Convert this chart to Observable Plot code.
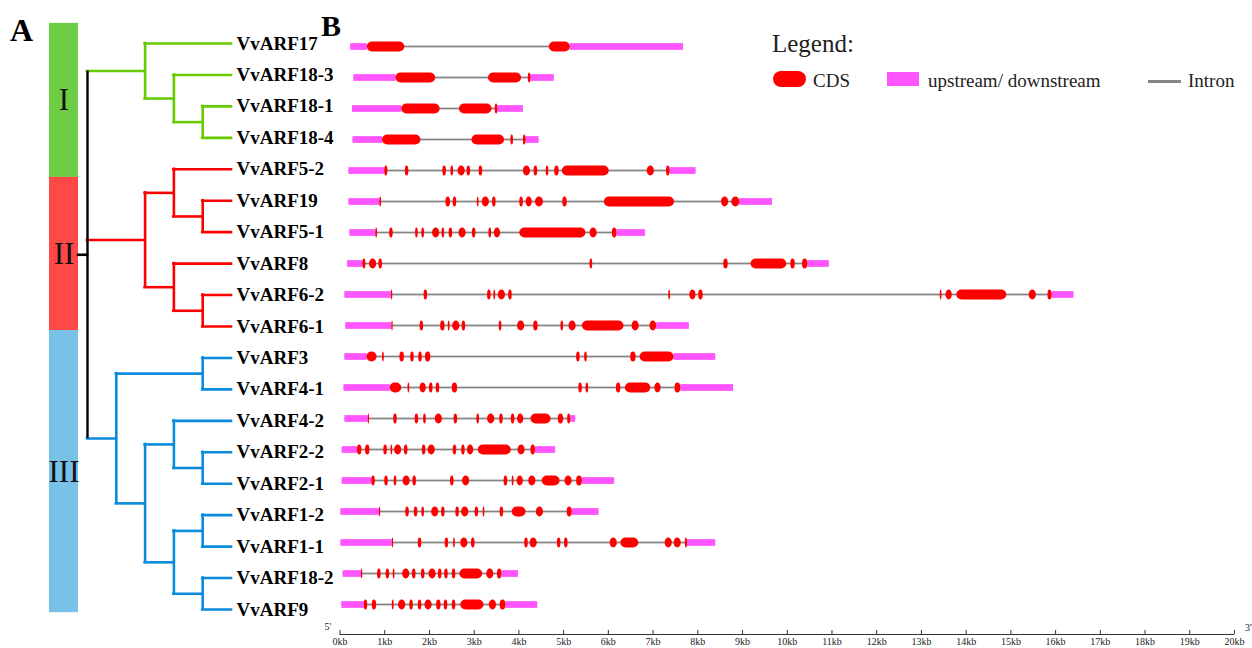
<!DOCTYPE html>
<html>
<head>
<meta charset="utf-8">
<script src="https://cdn.jsdelivr.net/npm/d3@7"></script>
<script src="https://cdn.jsdelivr.net/npm/@observablehq/plot@0.6"></script>
<style>
  body { margin: 0; background: #fff; }
  #wrap { position: relative; width: 1252px; height: 648px; font-family: "Liberation Serif", "Times New Roman", serif; color: #000; overflow: hidden; }
  .layer { position: absolute; }
  .layer svg { background: transparent !important; max-width: none !important; overflow: visible; display: block; }
  .txt { position: absolute; white-space: nowrap; }
</style>
</head>
<body>
<div id="wrap"></div>
<script>
// ---------------- data ----------------
const genes = ["VvARF17","VvARF18-3","VvARF18-1","VvARF18-4","VvARF5-2","VvARF19","VvARF5-1","VvARF8","VvARF6-2","VvARF6-1","VvARF3","VvARF4-1","VvARF4-2","VvARF2-2","VvARF2-1","VvARF1-2","VvARF1-1","VvARF18-2","VvARF9"];

const groups = ["I", "II", "III"];
// extent of each subfamily bar, in gene rows
const groupSpans = [[-0.64, 4.26], [4.26, 9.13], [9.13, 18.1]];
const groupBarColors = ["#6dce45", "#ff4848", "#78c2e7"];
const treeColors = ["#66cc00", "#ff0000", "#0a8bdb"];

// cladogram topology (subfamily I, II, III)
const tree = [
  ["VvARF17", ["VvARF18-3", ["VvARF18-1", "VvARF18-4"]]],
  [["VvARF5-2", ["VvARF19", "VvARF5-1"]], ["VvARF8", ["VvARF6-2", "VvARF6-1"]]],
  [["VvARF3", "VvARF4-1"], [["VvARF4-2", ["VvARF2-2", "VvARF2-1"]], [["VvARF1-2", "VvARF1-1"], ["VvARF18-2", "VvARF9"]]]]
];
const rootStem = 0.31;

// gene structures (kb)
const utr5 = [[0.24,0.61],[0.31,1.25],[0.28,1.38],[0.29,0.95],[0.20,1.00],[0.20,0.89],[0.22,0.80],[0.17,0.51],[0.11,1.15],[0.13,1.16],[0.11,0.60],[0.09,1.12],[0.11,0.63],[0.05,0.39],[0.05,0.71],[0.02,0.88],[0.02,1.17],[0.07,0.48],[0.04,0.54]];
const utr3 = [[5.15,7.68],[4.27,4.79],[3.53,4.10],[4.16,4.45],[7.38,7.96],[8.94,9.67],[6.19,6.83],[10.46,10.94],[15.92,16.41],[7.08,7.81],[7.47,8.40],[7.62,8.80],[5.16,5.27],[4.37,4.82],[5.42,6.14],[5.19,5.79],[7.77,8.40],[3.62,3.99],[3.71,4.42]];
const cds = [
  [[0.61,1.45],[4.68,5.15]],
  [[1.25,2.14],[3.32,4.06],[4.21,4.27]],
  [[1.38,2.24],[2.67,3.40],[3.47,3.53]],
  [[0.95,1.81],[2.95,3.68],[3.82,3.88],[4.10,4.16]],
  [[1.00,1.07],[1.46,1.54],[2.30,2.38],[2.48,2.54],[2.64,2.80],[2.84,2.92],[3.11,3.19],[4.10,4.26],[4.34,4.42],[4.61,4.67],[4.80,4.90],[4.97,6.02],[6.87,7.03],[7.30,7.38]],
  [[0.89,0.93],[2.37,2.47],[2.53,2.61],[3.07,3.11],[3.18,3.34],[3.41,3.49],[4.02,4.10],[4.16,4.30],[4.37,4.55],[4.98,5.08],[5.91,7.48],[8.53,8.69],[8.76,8.94]],
  [[0.80,0.84],[1.11,1.19],[1.69,1.75],[1.83,1.89],[2.07,2.23],[2.28,2.34],[2.44,2.52],[2.66,2.82],[2.96,3.04],[3.33,3.39],[3.45,3.59],[4.02,5.50],[5.59,5.75],[6.09,6.19]],
  [[0.51,0.58],[0.66,0.82],[0.87,0.95],[5.59,5.65],[8.58,8.68],[9.19,9.99],[10.08,10.18],[10.34,10.46]],
  [[1.15,1.18],[1.88,1.96],[3.30,3.38],[3.44,3.48],[3.54,3.70],[3.77,3.85],[7.35,7.39],[7.82,7.96],[8.02,8.12],[13.42,13.46],[13.55,13.69],[13.79,14.91],[15.41,15.57],[15.83,15.92]],
  [[1.16,1.19],[1.79,1.87],[2.25,2.35],[2.42,2.46],[2.52,2.68],[2.73,2.81],[3.56,3.62],[3.97,4.13],[4.33,4.43],[4.94,5.00],[5.12,5.28],[5.42,6.35],[6.53,6.69],[6.93,7.08]],
  [[0.60,0.83],[0.95,0.99],[1.34,1.44],[1.58,1.66],[1.76,1.84],[1.91,2.03],[5.29,5.37],[5.47,5.53],[6.50,6.62],[6.71,7.47]],
  [[1.12,1.38],[1.52,1.56],[1.79,1.93],[2.00,2.08],[2.15,2.23],[2.51,2.63],[5.34,5.42],[5.50,5.56],[6.18,6.28],[6.38,6.95],[7.04,7.18],[7.49,7.62]],
  [[0.63,0.66],[1.20,1.28],[1.68,1.76],[1.87,1.93],[2.13,2.29],[2.55,2.63],[3.06,3.12],[3.30,3.46],[3.57,3.65],[3.83,3.91],[3.97,4.11],[4.27,4.72],[4.88,5.00],[5.09,5.16]],
  [[0.39,0.49],[0.57,0.67],[0.98,1.06],[1.14,1.18],[1.22,1.38],[1.44,1.52],[1.84,1.92],[1.97,2.13],[2.53,2.61],[2.72,2.80],[2.85,2.99],[3.09,3.83],[3.98,4.14],[4.27,4.37]],
  [[0.71,0.79],[1.00,1.08],[1.21,1.27],[1.41,1.57],[1.63,1.71],[2.47,2.55],[2.74,2.90],[3.67,3.75],[3.85,3.89],[3.96,4.10],[4.22,4.38],[4.52,4.92],[5.03,5.19],[5.29,5.42]],
  [[0.88,0.91],[1.47,1.55],[1.66,1.74],[1.83,1.89],[2.05,2.21],[2.27,2.35],[2.59,2.67],[2.72,2.88],[3.02,3.10],[3.20,3.24],[3.58,3.66],[3.85,4.16],[4.39,4.55],[5.08,5.19]],
  [[1.17,1.20],[1.75,1.83],[2.35,2.43],[2.54,2.58],[2.70,2.86],[2.94,3.02],[4.13,4.21],[4.25,4.41],[4.86,4.94],[5.02,5.10],[6.04,6.20],[6.28,6.68],[7.27,7.43],[7.47,7.63],[7.72,7.77]],
  [[0.48,0.51],[0.84,0.92],[1.03,1.11],[1.19,1.23],[1.40,1.56],[1.62,1.70],[1.82,1.90],[1.99,2.15],[2.20,2.28],[2.34,2.42],[2.51,2.59],[2.68,3.19],[3.28,3.44],[3.52,3.62]],
  [[0.54,0.62],[0.72,0.82],[1.17,1.21],[1.31,1.47],[1.56,1.64],[1.75,1.83],[1.90,2.06],[2.16,2.26],[2.33,2.41],[2.51,2.59],[2.70,3.22],[3.34,3.50],[3.58,3.71]]
];

const tickValues = d3.range(0, 21);
const tickLabels = tickValues.map(d => d + "kb");
const endLabels = ["5'", "3'"];
const legendItems = ["CDS", "upstream/ downstream", "Intron"];
const legendColors = ["#ff0000", "#ff55ff", "#858585"];

// ---------------- layout ----------------
const FONT = "Liberation Serif";
const wrap = document.getElementById("wrap");
function place(node, left, top) {
  const d = document.createElement("div");
  d.className = "layer";
  d.style.left = left + "px";
  d.style.top = top + "px";
  d.appendChild(node);
  wrap.appendChild(d);
}
function txt(s, left, top, css) {
  const d = document.createElement("div");
  d.className = "txt";
  d.textContent = s;
  d.style.left = left + "px";
  d.style.top = top + "px";
  Object.assign(d.style, css);
  wrap.appendChild(d);
  return d;
}

const yRowRange = [43, 609];
const xKbRange = [339.5, 1234];

// ---- gene structure panel ----
const introns = genes.map((g, i) => ({gene: g, x1: utr5[i][0], x2: utr3[i][1]}));
const utrs = genes.flatMap((g, i) => [{gene: g, x1: utr5[i][0], x2: utr5[i][1]}, {gene: g, x1: utr3[i][0], x2: utr3[i][1]}]);
const exons = genes.flatMap((g, i) => cds[i].map(([a, b]) => ({gene: g, x1: a, x2: b})));
const step = (yRowRange[1] - yRowRange[0]) / (genes.length - 1);

const genePlot = Plot.plot({
  width: 1252, height: 648,
  marginTop: 0, marginBottom: 0, marginLeft: 0, marginRight: 0,
  style: {background: "transparent", fontFamily: FONT},
  x: {domain: [0, 20], range: xKbRange, axis: null},
  y: {type: "band", domain: genes, range: [yRowRange[0] - step / 2, yRowRange[1] + step / 2], padding: 0, axis: null},
  marks: [
    Plot.barX(introns, {x1: "x1", x2: "x2", y: "gene", fill: legendColors[2], insetTop: step / 2 - 1.1, insetBottom: step / 2 - 1.1}),
    Plot.barX(utrs, {x1: "x1", x2: "x2", y: "gene", fill: legendColors[1], insetTop: step / 2 - 3.6, insetBottom: step / 2 - 3.6}),
    Plot.barX(exons, {x1: "x1", x2: "x2", y: "gene", fill: legendColors[0], insetTop: step / 2 - 5.2, insetBottom: step / 2 - 5.2, rx: 5.2})
  ]
});
place(genePlot, 0, 0);

// ---- axis strip ----
const axisPlot = Plot.plot({
  width: 1252, height: 48,
  marginTop: 30, marginBottom: 14, marginLeft: 0, marginRight: 0,
  style: {background: "transparent", fontFamily: FONT, fontSize: "10px", color: "#222"},
  x: {domain: [0, 20], range: xKbRange, ticks: tickValues, tickFormat: (d, i) => tickLabels[i], tickSize: 0, tickPadding: 3, label: null},
  y: {domain: [0, 1], axis: null},
  marks: [
    Plot.ruleY([0], {x1: tickValues[0], x2: tickValues[tickValues.length - 1], stroke: "#333", strokeWidth: 1.2}),
    Plot.ruleX(tickValues, {stroke: "#333", strokeWidth: 1}),
    Plot.text([endLabels[0]], {x: tickValues[0], y: 1, dx: -12, dy: -4, fontSize: 10, fill: "#222"}),
    Plot.text([endLabels[1]], {x: tickValues[tickValues.length - 1], y: 1, dx: 14, dy: -3, fontSize: 10, fill: "#222"})
  ]
});
place(axisPlot, 0, 600);

// ---- subfamily bars ----
const groupPlot = Plot.plot({
  width: 29, height: 648,
  marginTop: 0, marginBottom: 0, marginLeft: 0, marginRight: 0,
  style: {background: "transparent", fontFamily: FONT},
  y: {domain: [0, genes.length - 1], range: yRowRange, axis: null},
  color: {type: "identity"},
  marks: [
    Plot.rect(groups, {y1: (d, i) => groupSpans[i][0], y2: (d, i) => groupSpans[i][1], fill: (d, i) => groupBarColors[i]}),
    Plot.text(groups, {y: (d, i) => (groupSpans[i][0] + groupSpans[i][1]) / 2, text: d => d, fontSize: 31, fontFamily: FONT, fill: "#111"})
  ]
});
place(groupPlot, 49, 0);

// ---- tree ----
function build(node) {
  if (typeof node === "string") return {name: node, y: genes.indexOf(node), h: 0};
  const children = node.map(build);
  return {children, y: (children[0].y + children[children.length - 1].y) / 2, h: 1 + d3.max(children, c => c.h)};
}
const root = build(tree);
const H = root.h;
const hSegs = [], vSegs = [], leaves = [];
function emit(n, color) {
  if (!n.children) { leaves.push({name: n.name, x: H - n.h, y: n.y}); return; }
  vSegs.push({x: H - n.h, y1: n.children[0].y, y2: n.children[n.children.length - 1].y, color});
  n.children.forEach((c, i) => {
    const cc = n === root ? treeColors[i] : color;
    hSegs.push({y: c.y, x1: H - n.h, x2: H - c.h, color: cc});
    emit(c, cc);
  });
}
emit(root, "#000");
hSegs.push({y: root.y, x1: -rootStem, x2: 0, color: "#000"});

const treePlot = Plot.plot({
  width: 340, height: 648,
  marginTop: 0, marginBottom: 0, marginLeft: 0, marginRight: 0,
  style: {background: "transparent", fontFamily: FONT},
  x: {domain: [0, H], range: [87, 231], axis: null},
  y: {domain: [0, genes.length - 1], range: yRowRange, axis: null},
  color: {type: "identity"},
  marks: [
    Plot.ruleX(vSegs.filter(d => d.color !== "#000"), {x: "x", y1: "y1", y2: "y2", stroke: "color", strokeWidth: 2.6, strokeLinecap: "square"}),
    Plot.ruleY(hSegs, {y: "y", x1: "x1", x2: "x2", stroke: "color", strokeWidth: 2.6, strokeLinecap: "square"}),
    Plot.ruleX(vSegs.filter(d => d.color === "#000"), {x: "x", y1: "y1", y2: "y2", stroke: "color", strokeWidth: 2.4}),
    Plot.text(leaves, {x: "x", y: "y", text: "name", dx: 5, textAnchor: "start", fontSize: 19, fontWeight: "bold", fontFamily: FONT, fill: "#000"})
  ]
});
place(treePlot, 0, 0);

// ---- panel letters & legend ----
txt("A", 10, 14, {fontSize: "32px", fontWeight: "bold", lineHeight: "32px"});
txt("B", 321, 11, {fontSize: "30px", fontWeight: "bold", lineHeight: "30px"});
txt("Legend:", 772, 31, {fontSize: "25px", lineHeight: "25px", color: "#222"});

const sw1 = document.createElement("div");
Object.assign(sw1.style, {position: "absolute", left: "773px", top: "71px", width: "33px", height: "16px", borderRadius: "8px", background: legendColors[0]});
wrap.appendChild(sw1);
txt(legendItems[0], 813, 71, {fontSize: "19px", lineHeight: "19px", color: "#222"});
const sw2 = document.createElement("div");
Object.assign(sw2.style, {position: "absolute", left: "887px", top: "72px", width: "32px", height: "14px", background: legendColors[1]});
wrap.appendChild(sw2);
txt(legendItems[1], 928, 71, {fontSize: "19px", lineHeight: "19px", color: "#222"});
const sw3 = document.createElement("div");
Object.assign(sw3.style, {position: "absolute", left: "1148px", top: "80px", width: "33px", height: "3px", background: legendColors[2]});
wrap.appendChild(sw3);
txt(legendItems[2], 1188, 71, {fontSize: "19px", lineHeight: "19px", color: "#222"});
</script>
</body>
</html>
